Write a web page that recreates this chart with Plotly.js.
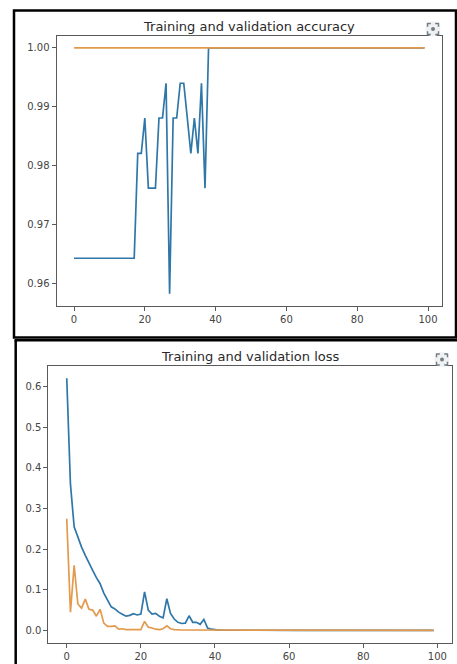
<!DOCTYPE html>
<html>
<head>
<meta charset="utf-8">
<script src="https://cdn.plot.ly/plotly-3.0.1.min.js"></script>
<style>html,body{margin:0;padding:0;background:#fff;}#chart{width:457px;height:664px;}</style>
</head>
<body>
<div id="chart"></div>
<script>
// ---- data ----
const epochs = [];
for (let i = 0; i < 100; i++) epochs.push(i);

const trainAcc = [
  0.9643,0.9643,0.9643,0.9643,0.9643,0.9643,0.9643,0.9643,0.9643,0.9643,
  0.9643,0.9643,0.9643,0.9643,0.9643,0.9643,0.9643,0.9643,0.9821,0.9821,
  0.9881,0.9762,0.9762,0.9762,0.9881,0.9881,0.9940,0.9583,0.9881,0.9881,
  0.9940,0.9940,0.9881,0.9821,0.9881,0.9821,0.9940,0.9762,1.0,1.0,
  1.0,1.0,1.0,1.0,1.0,1.0,1.0,1.0,1.0,1.0,
  1.0,1.0,1.0,1.0,1.0,1.0,1.0,1.0,1.0,1.0,
  1.0,1.0,1.0,1.0,1.0,1.0,1.0,1.0,1.0,1.0,
  1.0,1.0,1.0,1.0,1.0,1.0,1.0,1.0,1.0,1.0,
  1.0,1.0,1.0,1.0,1.0,1.0,1.0,1.0,1.0,1.0,
  1.0,1.0,1.0,1.0,1.0,1.0,1.0,1.0,1.0,1.0
];
const valAcc = [
  1.0,1.0,1.0,1.0,1.0,1.0,1.0,1.0,1.0,1.0,
  1.0,1.0,1.0,1.0,1.0,1.0,1.0,1.0,1.0,1.0,
  1.0,1.0,1.0,1.0,1.0,1.0,1.0,1.0,1.0,1.0,
  1.0,1.0,1.0,1.0,1.0,1.0,1.0,1.0,1.0,1.0,
  1.0,1.0,1.0,1.0,1.0,1.0,1.0,1.0,1.0,1.0,
  1.0,1.0,1.0,1.0,1.0,1.0,1.0,1.0,1.0,1.0,
  1.0,1.0,1.0,1.0,1.0,1.0,1.0,1.0,1.0,1.0,
  1.0,1.0,1.0,1.0,1.0,1.0,1.0,1.0,1.0,1.0,
  1.0,1.0,1.0,1.0,1.0,1.0,1.0,1.0,1.0,1.0,
  1.0,1.0,1.0,1.0,1.0,1.0,1.0,1.0,1.0,1.0
];
const trainLoss = [
  0.621,0.360,0.255,0.228,0.205,0.185,0.165,0.148,0.130,0.115,
  0.092,0.075,0.058,0.053,0.045,0.040,0.035,0.037,0.041,0.038,
  0.040,0.095,0.050,0.040,0.042,0.035,0.031,0.078,0.042,0.028,
  0.020,0.017,0.018,0.036,0.020,0.020,0.015,0.027,0.006,0.003,
  0.0015,0.0008,0.0005,0.0004,0.0004,0.0003,0.0003,0.0003,0.0003,0.0003,
  0.0003,0.0002,0.0002,0.0002,0.0002,0.0002,0.0002,0.0002,0.0002,0.0002,
  0.0002,0.0002,0.0002,0.0002,0.0002,0.0002,0.0002,0.0002,0.0002,0.0002,
  0.0002,0.0002,0.0002,0.0002,0.0002,0.0002,0.0002,0.0002,0.0002,0.0002,
  0.0002,0.0002,0.0002,0.0002,0.0002,0.0002,0.0002,0.0002,0.0002,0.0002,
  0.0002,0.0002,0.0002,0.0002,0.0002,0.0002,0.0002,0.0002,0.0002,0.0002
];
const valLoss = [
  0.275,0.045,0.160,0.065,0.055,0.077,0.052,0.050,0.035,0.052,
  0.018,0.010,0.010,0.011,0.003,0.004,0.002,0.002,0.002,0.002,
  0.002,0.022,0.008,0.006,0.003,0.002,0.004,0.011,0.004,0.002,
  0.001,0.001,0.001,0.001,0.001,0.001,0.001,0.001,0.0008,0.0006,
  0.0005,0.0004,0.0004,0.0003,0.0003,0.0003,0.0003,0.0003,0.0003,0.0003,
  0.0002,0.0002,0.0002,0.0002,0.0002,0.0002,0.0002,0.0002,0.0002,0.0002,
  0.0002,0.0002,0.0002,0.0002,0.0002,0.0002,0.0002,0.0002,0.0002,0.0002,
  0.0002,0.0002,0.0002,0.0002,0.0002,0.0002,0.0002,0.0002,0.0002,0.0002,
  0.0002,0.0002,0.0002,0.0002,0.0002,0.0002,0.0002,0.0002,0.0002,0.0002,
  0.0002,0.0002,0.0002,0.0002,0.0002,0.0002,0.0002,0.0002,0.0002,0.0002
];

const xTicks = [0, 20, 40, 60, 80, 100];
const accTicks = [0.96, 0.97, 0.98, 0.99, 1.00];
const accTickText = ['0.96', '0.97', '0.98', '0.99', '1.00'];
const lossTicks = [0.0, 0.1, 0.2, 0.3, 0.4, 0.5, 0.6];
const lossTickText = ['0.0', '0.1', '0.2', '0.3', '0.4', '0.5', '0.6'];
const titles = ['Training and validation accuracy', 'Training and validation loss'];

// ---- layout helpers ----
const W = 457, H = 664;
const px = x => x / W;
const py = y => 1 - y / H;

const BLUE = '#2f77a8';
const ORANGE = '#e39a4c';
const AXC = '#5a5a5a';
const FONT = 'DejaVu Sans, sans-serif';

const traces = [
  {x: epochs, y: trainAcc, xaxis: 'x', yaxis: 'y', mode: 'lines', name: 'Training accuracy',
   line: {color: BLUE, width: 1.7}},
  {x: epochs, y: valAcc, xaxis: 'x', yaxis: 'y', mode: 'lines', name: 'Validation accuracy',
   line: {color: ORANGE, width: 1.7}},
  {x: epochs, y: trainLoss, xaxis: 'x2', yaxis: 'y2', mode: 'lines', name: 'Training loss',
   line: {color: BLUE, width: 1.7}},
  {x: epochs, y: valLoss, xaxis: 'x2', yaxis: 'y2', mode: 'lines', name: 'Validation loss',
   line: {color: ORANGE, width: 1.7}}
];

function axisBase() {
  return {
    showline: true, mirror: true, linecolor: AXC, linewidth: 1,
    ticks: 'outside', ticklen: 4, tickwidth: 1, tickcolor: AXC,
    showgrid: false, zeroline: false,
    tickfont: {family: FONT, size: 10, color: '#444'},
    fixedrange: true
  };
}

function iconShapes(cx, cy, s) {
  const h = s / 2, c = s * 0.3;
  const L = cx - h, R = cx + h, T = cy - h, B = cy + h;
  const p = `M${px(L)},${py(T + c)} L${px(L)},${py(T)} L${px(L + c)},${py(T)} ` +
            `M${px(R - c)},${py(T)} L${px(R)},${py(T)} L${px(R)},${py(T + c)} ` +
            `M${px(R)},${py(B - c)} L${px(R)},${py(B)} L${px(R - c)},${py(B)} ` +
            `M${px(L + c)},${py(B)} L${px(L)},${py(B)} L${px(L)},${py(B - c)}`;
  return [
    {type: 'circle', xref: 'paper', yref: 'paper', x0: px(cx - h - 2), x1: px(cx + h + 2),
     y0: py(cy + h + 2), y1: py(cy - h - 2), fillcolor: '#f1f1f1', line: {width: 0}, layer: 'above'},
    {type: 'path', xref: 'paper', yref: 'paper', path: p, line: {color: '#6f7f88', width: 1.5}, layer: 'above'},
    {type: 'circle', xref: 'paper', yref: 'paper', x0: px(cx - 2), x1: px(cx + 2),
     y0: py(cy + 2), y1: py(cy - 2), fillcolor: '#6f7f88', line: {width: 0}, layer: 'above'}
  ];
}

const layout = {
  width: W, height: H,
  margin: {l: 0, r: 0, t: 0, b: 0},
  paper_bgcolor: '#ffffff', plot_bgcolor: '#ffffff',
  showlegend: false,
  font: {family: FONT},
  xaxis: Object.assign(axisBase(), {domain: [px(56.5), px(442)], anchor: 'y',
    range: [-4.95, 103.95], tickvals: xTicks}),
  yaxis: Object.assign(axisBase(), {domain: [py(306), py(35.5)], anchor: 'x',
    range: [0.9562, 1.0021], tickvals: accTicks, ticktext: accTickText}),
  xaxis2: Object.assign(axisBase(), {domain: [px(48.4), px(452)], anchor: 'y2',
    range: [-4.95, 103.95], tickvals: xTicks}),
  yaxis2: Object.assign(axisBase(), {domain: [py(643), py(366)], anchor: 'x2',
    range: [-0.031, 0.651], tickvals: lossTicks, ticktext: lossTickText}),
  annotations: [
    {text: titles[0], xref: 'paper', yref: 'paper', x: px(249), y: py(26),
     xanchor: 'center', yanchor: 'middle', showarrow: false,
     font: {family: FONT, size: 13, color: '#2a2a2a'}},
    {text: titles[1], xref: 'paper', yref: 'paper', x: px(250), y: py(356),
     xanchor: 'center', yanchor: 'middle', showarrow: false,
     font: {family: FONT, size: 13, color: '#2a2a2a'}}
  ],
  shapes: [
    {type: 'rect', xref: 'paper', yref: 'paper', x0: px(14), x1: px(456), y0: py(337.5), y1: py(10.5),
     line: {color: '#000', width: 2.5}},
    {type: 'line', xref: 'paper', yref: 'paper', x0: px(15.7), x1: px(15.7), y0: py(664), y1: py(340.3),
     line: {color: '#000', width: 2.5}},
    {type: 'line', xref: 'paper', yref: 'paper', x0: px(14.5), x1: px(457), y0: py(340.3), y1: py(340.3),
     line: {color: '#000', width: 2.5}}
  ].concat(iconShapes(433, 29, 11)).concat(iconShapes(442, 359.5, 11))
};

Plotly.newPlot('chart', traces, layout, {displayModeBar: false, staticPlot: true});
</script>
</body>
</html>
